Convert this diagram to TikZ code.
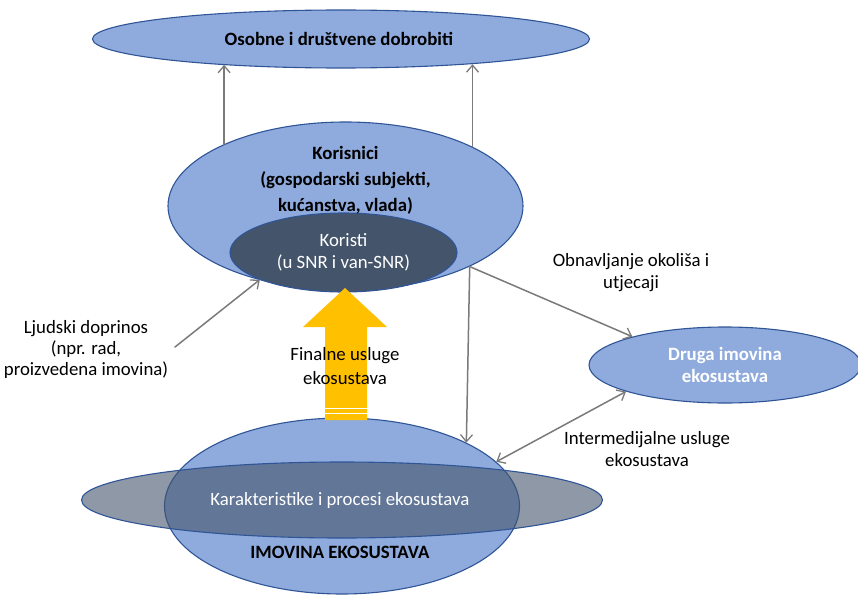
\documentclass[tikz,border=0pt]{standalone}
\usepackage{fontspec}
\setmainfont{Carlito}
\usepackage{tikz}
\usetikzlibrary{arrows.meta,positioning,calc,shapes.geometric}
\definecolor{ellipseblue}{HTML}{8FAADC}
\definecolor{edgeblue}{HTML}{2F5597}
\definecolor{slateblue}{HTML}{44546A}
\definecolor{flowgray}{HTML}{7A7A7A}
\definecolor{finalyellow}{HTML}{FFC000}
\tikzset{
  blob node/.style={
    ellipse,
    draw=edgeblue,
    fill=ellipseblue,
    line width=1.1pt,
    inner sep=0pt,
    align=center,
    font=\fontsize{18.8}{22}\selectfont
  }
}
\tikzset{
  dark blob/.style={
    blob node,
    fill=slateblue,
    text=white
  }
}
\tikzset{
  plain text/.style={
    align=center,
    inner sep=1pt,
    font=\fontsize{18.8}{22}\selectfont
  }
}
\tikzset{
  flow/.style={
    -{Straight Barb[length=7pt,width=12pt,line width=1.3pt]},
    draw=flowgray,
    line width=1.5pt,
    line cap=round
  }
}
\tikzset{
  two way flow/.style={
    flow,
    {Straight Barb[length=7pt,width=12pt,line width=1.3pt]}-{Straight Barb[length=7pt,width=12pt,line width=1.3pt]}
  }
}

\begin{document}
\begin{tikzpicture}[x=1pt,y=-1pt]

    \useasboundingbox (0,0) rectangle (858,594);

    % ------------------------------------------------------------
    % Ellipses
    % ------------------------------------------------------------

    \node[blob node, minimum width=497pt, minimum height=58pt,
      font=\fontsize{18.8}{22}\selectfont\bfseries] (dobrobiti) at (341,39)
    {
      Osobne i društvene dobrobiti
    };

    \node[blob node, minimum width=355pt, minimum height=168pt] (korisnici) at (345.5,206) {};

    \node[dark blob, minimum width=227pt, minimum height=79pt] (koristi) at (343.5,252.5)
    {
      Koristi\\
      (u SNR i van-SNR)
    };

    \node[blob node, minimum width=272pt, minimum height=76pt, text=white,
      font=\fontsize{18.8}{22}\selectfont\bfseries] (druga) at (725,365)
    {
      Druga imovina\\
      ekosustava
    };

    \node[blob node, minimum width=355pt, minimum height=176pt] (imovina) at (342,506) {};

    % Flat ellipse lies over the asset ellipse
    \node[blob node, fill=slateblue, fill opacity=0.6, text opacity=1, text=white,
      minimum width=521pt, minimum height=76pt] (procesi) at (342,500)
    {
      Karakteristike i procesi ekosustava
    };

    % ------------------------------------------------------------
    % Texts inside the ellipses
    % ------------------------------------------------------------

    \node[plain text, font=\fontsize{18.8}{26}\selectfont\bfseries] (korisniciText) at (345.5,180)
    {
      Korisnici\\
      (gospodarski subjekti,\\
      kućanstva, vlada)
    };

    \node[plain text, font=\fontsize{18.8}{22}\selectfont\bfseries] (imovinaText) at (342,552)
    {
      IMOVINA EKOSUSTAVA
    };

    % ------------------------------------------------------------
    % Flows
    % ------------------------------------------------------------

    \draw[flow]
      (korisnici.153.7)
      --
      (korisnici.153.7 |- dobrobiti.192.2);

    \draw[flow]
      (korisnici.25)
      --
      (korisnici.25 |- dobrobiti.349.4);

    \draw[flow]
      (korisnici.334.6)
      --
      (imovina.27.1);

    \draw[flow]
      (korisnici.334.6)
      --
      (druga.163.6);

    \draw[two way flow]
      (druga.195.2)
      --
      (imovina.16);

    \coordinate (doprinosStart) at (175,347);
    \draw[flow]
      (doprinosStart)
      --
      (koristi.198.9);

    % Final services block arrow
    \fill[finalyellow]
      (325,420) -- (325,327) -- (303,327) -- (345,288)
      -- (387,327) -- (367,327) -- (367,420) -- cycle;
    \draw[white, line width=0.9pt] (325,408) -- (367,408);
    \draw[white, line width=0.9pt] (325,413) -- (367,413);

    % ------------------------------------------------------------
    % Labels
    % ------------------------------------------------------------

    \node[plain text, font=\fontsize{18.8}{24}\selectfont] (finalne) at (345,366)
    {
      Finalne usluge\\
      ekosustava
    };

    \node[plain text] (obnavljanje) at (631,273)
    {
      Obnavljanje okoliša i\\
      utjecaji
    };

    \node[plain text] (intermedijalne) at (647,449)
    {
      Intermedijalne usluge\\
      ekosustava
    };

    \node[plain text, font=\fontsize{18.8}{21}\selectfont] (doprinos) at (86,349)
    {
      Ljudski doprinos\\
      (npr. rad,\\
      proizvedena imovina)
    };

\end{tikzpicture}
\end{document}
